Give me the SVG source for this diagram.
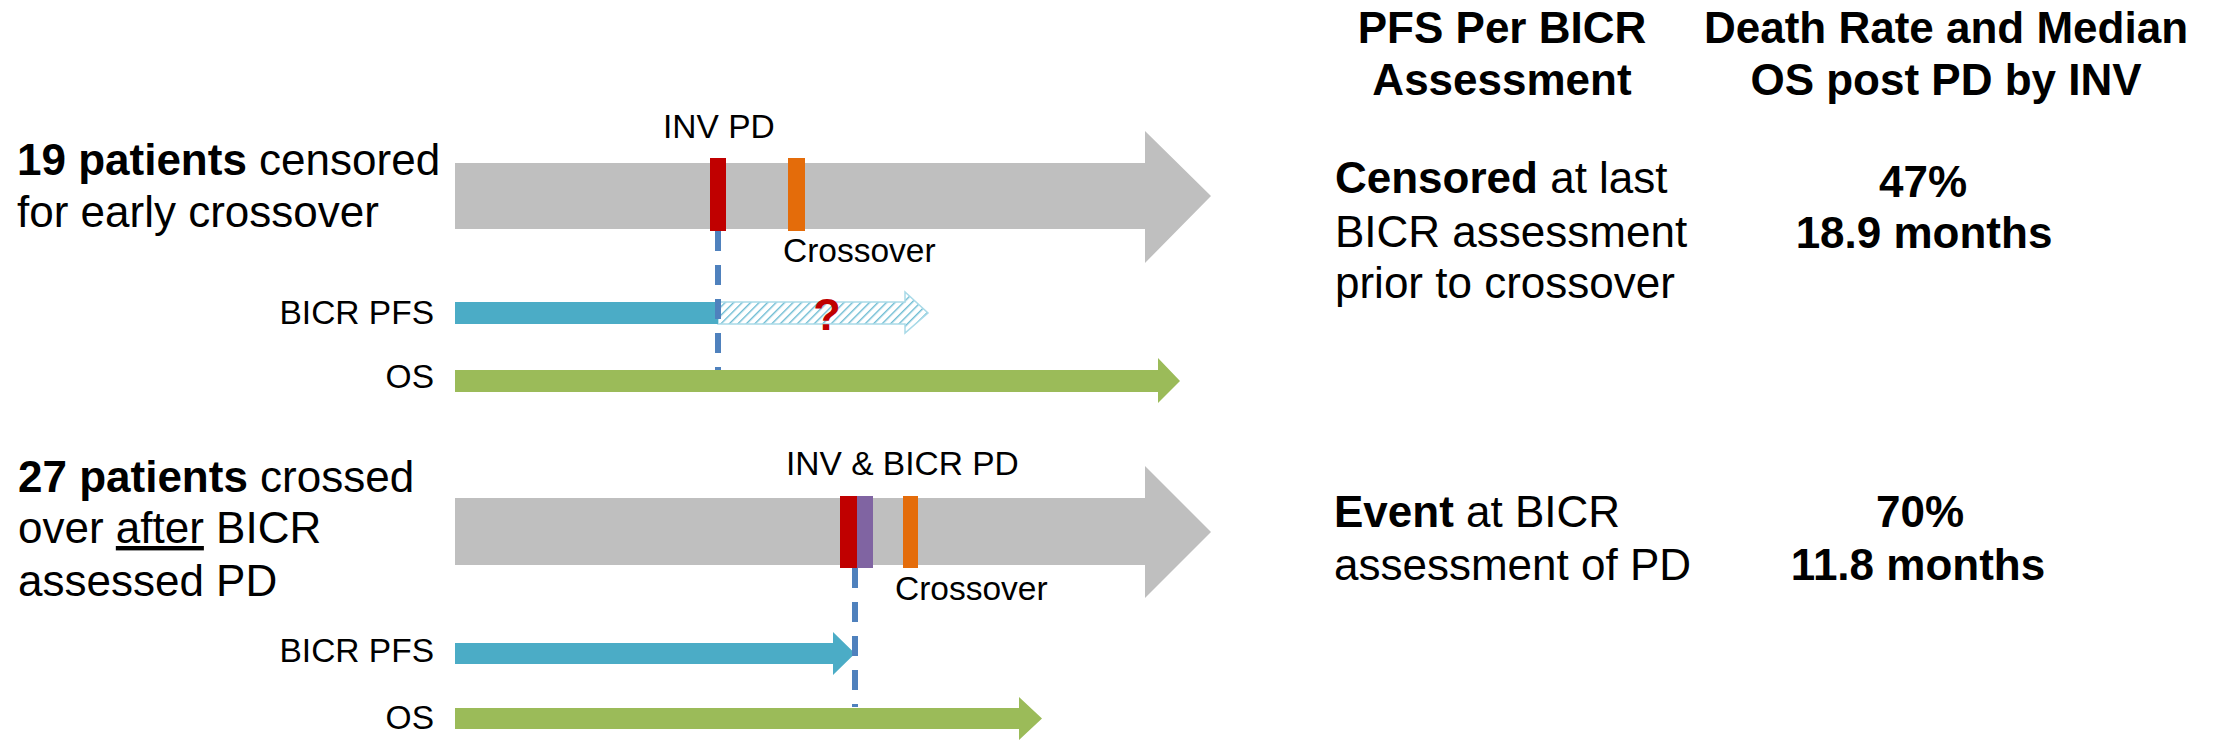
<svg xmlns="http://www.w3.org/2000/svg" width="2214" height="741" viewBox="0 0 2214 741">
<style>
text{font-family:"Liberation Sans",Arial,sans-serif;fill:#000}
.big{font-size:44px}
.sm{font-size:33.5px}
.b{font-weight:bold}
.mid{text-anchor:middle}
.end{text-anchor:end}
.gray{fill:#BFBFBF}
.red{fill:#C00000}
.orange{fill:#E46C0A}
.purple{fill:#8064A2}
.blue{fill:#4BACC6}
.green{fill:#9BBB59}
.dash{stroke:#4F81BD;stroke-width:6;stroke-dasharray:20 14;fill:none}
</style>
<defs>
<pattern id="hatch" patternUnits="userSpaceOnUse" width="6" height="6" patternTransform="rotate(45)">
<rect width="6" height="6" fill="#FFFFFF"/>
<line x1="0" y1="0" x2="0" y2="6" stroke="#6BBBD2" stroke-width="2.8"/>
</pattern>
</defs>
<rect width="2214" height="741" fill="#FFFFFF"/>

<g id="row1-label">
<text class="big" x="17" y="175"><tspan class="b">19 patients</tspan> censored</text>
<text class="big" x="17" y="227">for early crossover</text>
</g>

<g id="row1-timeline">
<polygon class="gray" points="455,163 1145,163 1145,131 1211,196 1145,263 1145,229 455,229"/>
<rect class="red" x="710" y="158" width="16" height="73"/>
<rect class="orange" x="788" y="158" width="17" height="73"/>
<text class="sm" x="663" y="138">INV PD</text>
<text class="sm" x="783" y="262">Crossover</text>
</g>

<g id="row1-pfs">
<text class="sm end" x="434" y="324">BICR PFS</text>
<polygon points="718,302 905,302 905,292 928,313 905,333 905,324 718,324" fill="url(#hatch)" stroke="#A9DAE8" stroke-width="1.5"/>
<rect class="blue" x="455" y="302" width="263" height="22"/>
<text class="b" x="827" y="330" style="font-size:45px;fill:#C00000" text-anchor="middle">?</text>
</g>

<g id="row1-os">
<text class="sm end" x="434" y="388">OS</text>
<polygon class="green" points="455,370 1158,370 1158,358 1180,381 1158,403 1158,392 455,392"/>
</g>

<g id="row2-label">
<text class="big" x="18" y="492"><tspan class="b">27 patients</tspan> crossed</text>
<text class="big" x="18" y="543">over <tspan text-decoration="underline">after</tspan> BICR</text>
<text class="big" x="18" y="596">assessed PD</text>
</g>

<g id="row2-timeline">
<polygon class="gray" points="455,498 1145,498 1145,466 1211,532 1145,598 1145,565 455,565"/>
<rect class="red" x="840" y="496" width="17" height="72"/>
<rect class="purple" x="857" y="496" width="16" height="72"/>
<rect class="orange" x="903" y="496" width="15" height="72"/>
<text class="sm" x="786" y="475">INV &amp; BICR PD</text>
<text class="sm" x="895" y="600">Crossover</text>
</g>

<g id="row2-pfs">
<text class="sm end" x="434" y="662">BICR PFS</text>
<polygon class="blue" points="455,643 833,643 833,632 855,653.5 833,675 833,664 455,664"/>
</g>

<g id="row2-os">
<text class="sm end" x="434" y="729">OS</text>
<polygon class="green" points="455,708 1019,708 1019,697 1042,718.5 1019,740 1019,729 455,729"/>
</g>

<g id="connectors">
<line class="dash" x1="718" y1="231" x2="718" y2="370"/>
<line class="dash" x1="855" y1="568" x2="855" y2="707"/>
</g>

<g id="header-pfs">
<text class="big b mid" x="1502" y="43">PFS Per BICR</text>
<text class="big b mid" x="1502" y="95">Assessment</text>
</g>
<g id="header-os">
<text class="big b mid" x="1946" y="43">Death Rate and Median</text>
<text class="big b mid" x="1946" y="95">OS post PD by INV</text>
</g>

<g id="row1-result">
<text class="big" x="1335" y="193"><tspan class="b">Censored</tspan> at last</text>
<text class="big" x="1335" y="247">BICR assessment</text>
<text class="big" x="1335" y="298">prior to crossover</text>
<text class="big b mid" x="1923" y="197">47%</text>
<text class="big b mid" x="1924" y="248">18.9 months</text>
</g>

<g id="row2-result">
<text class="big" x="1334" y="527"><tspan class="b">Event</tspan> at BICR</text>
<text class="big" x="1334" y="580">assessment of PD</text>
<text class="big b mid" x="1920" y="527">70%</text>
<text class="big b mid" x="1918" y="580">11.8 months</text>
</g>
</svg>
